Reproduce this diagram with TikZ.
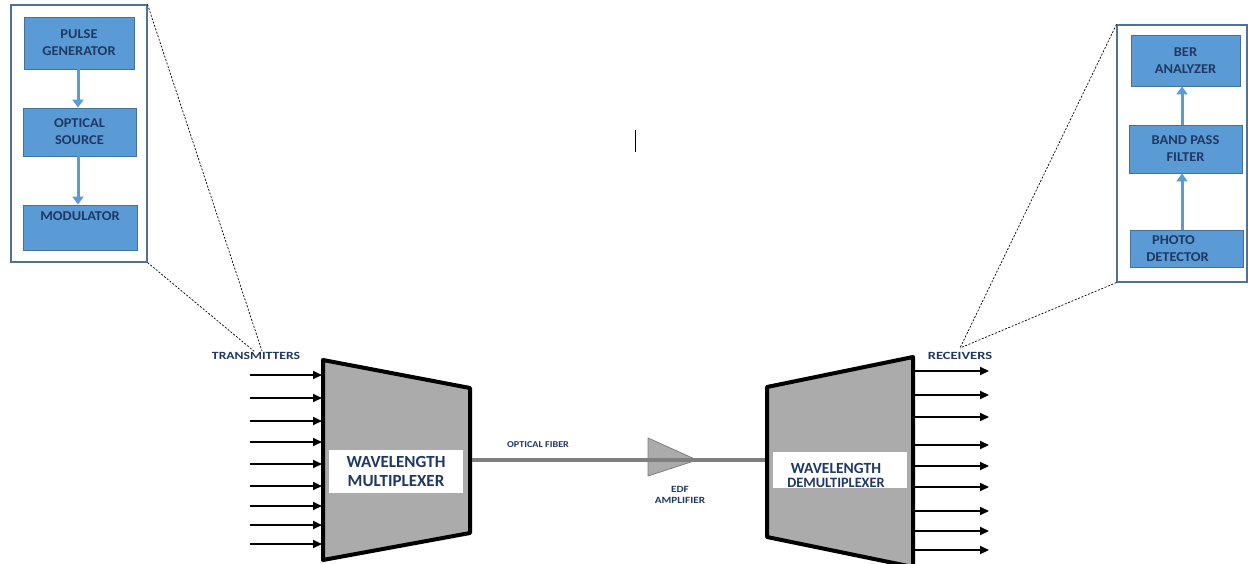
\documentclass[tikz,border=0pt]{standalone}
\usepackage{fontspec}
\setmainfont{Carlito}
\usetikzlibrary{arrows.meta}
\definecolor{boxblue}{HTML}{5B9BD5}
\definecolor{boxedge}{HTML}{41719C}
\definecolor{frameedge}{HTML}{4F7396}
\definecolor{navy}{HTML}{1F3864}
\definecolor{muxgray}{HTML}{ABABAB}
\definecolor{fibergray}{HTML}{7F7F7F}
\newcommand{\wide}[2][1.25]{\scalebox{#1}[1]{#2}}
\tikzset{
  blockbox/.style={draw=boxedge, line width=0.9pt, fill=boxblue, text=navy,
    font=\fontsize{13.5}{17}\selectfont\bfseries, align=center, inner sep=0pt},
  framebox/.style={draw=frameedge, line width=1.1pt, fill=white, inner sep=0pt},
  bluearrow/.style={draw=boxblue, line width=3pt, -{Triangle[length=8pt,width=11pt]}},
  blackarrow/.style={draw=black, line width=2.2pt, -{Triangle[length=9pt,width=8pt]}},
  zoomline/.style={draw=black, line width=0.7pt, dash pattern=on 2pt off 1.6pt},
  muxshape/.style={draw=black, line width=4pt, line join=round, fill=muxgray},
  labelbox/.style={fill=white, inner sep=0pt, text=navy, align=center, font=\bfseries},
  smalllabel/.style={text=navy, font=\fontsize{9.5}{11}\selectfont\bfseries, align=center, inner sep=0pt},
}
\begin{document}
\begin{tikzpicture}[x=1pt,y=-1pt]
\useasboundingbox (0,0) rectangle (1248,564);
% left zoom frame
\node[framebox, minimum width=136pt, minimum height=257pt] (lf) at (79,133.5) {};
\node[blockbox, minimum width=110pt, minimum height=52pt] (pg) at (79,43) {\wide[1.07]{PULSE}\\\wide[1.07]{GENERATOR}};
\node[blockbox, minimum width=113pt, minimum height=48pt] (os) at (79.5,132) {\wide[1.07]{OPTICAL}\\\wide[1.07]{SOURCE}};
\node[blockbox, minimum width=114pt, minimum height=45pt] (md) at (80,227.5) {\wide[1.07]{MODULATOR}\\\strut};
\draw[bluearrow] (pg.south -| 78,0) -- (os.north -| 78,0);
\draw[bluearrow] (os.south -| 78,0) -- (md.north -| 78,0);
% right zoom frame
\node[framebox, minimum width=130pt, minimum height=257pt] (rf) at (1182,153.5) {};
\node[blockbox, minimum width=109pt, minimum height=51pt] (ber) at (1185.5,60.5) {\wide[1.07]{BER}\\\wide[1.07]{ANALYZER}};
\node[blockbox, minimum width=113pt, minimum height=48pt] (bpf) at (1185.5,149) {\wide[1.07]{BAND PASS}\\\wide[1.07]{FILTER}};
\node[blockbox, minimum width=113pt, minimum height=37pt] (pd) at (1186.5,248.5) {\wide[1.07]{PHOTO}\hspace*{26pt}\\\wide[1.07]{DETECTOR}\hspace*{18pt}};
\draw[bluearrow] (pd.north -| 1182,0) -- (bpf.south -| 1182,0);
\draw[bluearrow] (bpf.north -| 1182,0) -- (ber.south -| 1182,0);
% labels
\node[smalllabel, font=\fontsize{11}{12}\selectfont\bfseries] (tx) at (256,356) {\wide[1.24]{TRANSMITTERS}};
\node[smalllabel, font=\fontsize{11}{12}\selectfont\bfseries] (rx) at (960,356) {\wide[1.32]{RECEIVERS}};
% zoom dashed lines
\coordinate (lz1) at (262,351);
\coordinate (lz2) at (255,352);
\draw[zoomline] (lf.north east) -- (lz1);
\draw[zoomline] (lf.south east) -- (lz2);
\coordinate (rz) at (960,348);
\draw[zoomline] (rf.north west) -- (rz);
\draw[zoomline] (rf.south west) -- (rz);
% multiplexer
\coordinate (m1) at (323,360);
\coordinate (m2) at (470,388);
\coordinate (m3) at (470,533);
\coordinate (m4) at (323,560);
\draw[muxshape] (m1) -- (m2) -- (m3) -- (m4) -- cycle;
\node[labelbox, minimum width=134pt, minimum height=43pt, font=\fontsize{17}{19}\selectfont\bfseries] (mxl) at (396,471.5) {WAVELENGTH\\MULTIPLEXER};
% demultiplexer
\coordinate (d1) at (767,387);
\coordinate (d2) at (913,357);
\coordinate (d3) at (913,567);
\coordinate (d4) at (767,537);
\draw[muxshape] (d1) -- (d2) -- (d3) -- (d4) -- cycle;
\node[labelbox, minimum width=134pt, minimum height=36pt] (dxl) at (840,470) {};
\node[text=navy, align=center, inner sep=0pt, font=\fontsize{15.5}{14}\selectfont\bfseries] (dxt) at (836,475) {WAVELENGTH\\[0pt]{\fontsize{14.3}{14}\selectfont DEMULTIPLEXER}};
% input arrows
\foreach \yy [count=\i] in {375,398,421,442,464,486,506,525,544} {
  \coordinate (is\i) at (250,\yy);
  \coordinate (ie\i) at (322,\yy);
  \draw[blackarrow] (is\i) -- (ie\i);
}
% output arrows
\foreach \yy [count=\i] in {371,395,417,445,466,487,511,531,550} {
  \coordinate (os\i) at (915,\yy);
  \coordinate (oe\i) at (989,\yy);
  \draw[blackarrow] (os\i) -- (oe\i);
}
% amplifier and fiber
\coordinate (a1) at (648,438);
\coordinate (a2) at (697,460);
\coordinate (a3) at (648,476);
\draw[draw=fibergray, line width=0.8pt, fill=muxgray, line join=round] (a1) -- (a2) -- (a3) -- cycle;
\coordinate (fs) at (472,460);
\coordinate (fe) at (765,460);
\draw[draw=fibergray, line width=4pt] (fs) -- (fe);
\node[smalllabel, font=\fontsize{9}{10}\selectfont\bfseries] (fl) at (538,445) {\wide[1.13]{OPTICAL FIBER}};
\node[smalllabel, font=\fontsize{9.5}{11}\selectfont\bfseries] (el) at (680,494.5) {\wide[1.18]{EDF}\\\wide[1.18]{AMPLIFIER}};
% stray cursor mark
\coordinate (c1) at (635,130);
\coordinate (c2) at (635,152);
\draw[line width=1pt] (c1) -- (c2);
\end{tikzpicture}
\end{document}
